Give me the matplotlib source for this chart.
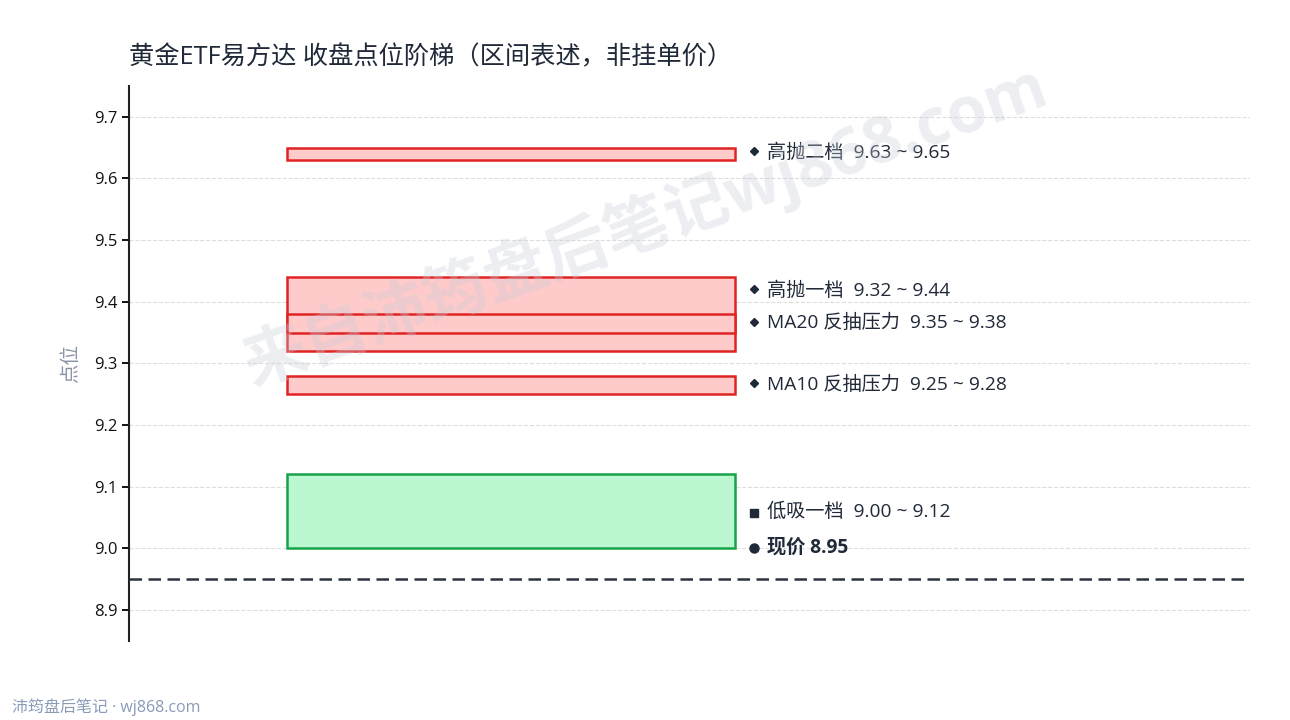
import matplotlib
matplotlib.use("Agg")
import matplotlib.pyplot as plt
from matplotlib.patches import Rectangle

plt.rcParams['font.family'] = ['Open Sans', 'Noto Sans CJK SC', 'DejaVu Sans']

# ---------- data ----------
zone_names = ["高抛二档", "高抛一档", "MA20 反抽压力", "MA10 反抽压力", "低吸一档"]
zone_low = [9.63, 9.32, 9.35, 9.25, 9.00]
zone_high = [9.65, 9.44, 9.38, 9.28, 9.12]
zone_kind = ["sell", "sell", "sell", "sell", "buy"]
current_price = 8.95

# label layout (nudged to avoid overlap)
label_y = [9.642, 9.418, 9.366, 9.266, 9.06]
price_label_y = 9.002

RED_EDGE, RED_FILL = "#e02424", "#fecaca"
GREEN_EDGE, GREEN_FILL = "#16a34a", "#bbf7d0"
TEXT = "#1f2937"

fig = plt.figure(figsize=(12.9, 7.2), dpi=100)
ax = fig.add_axes([0.1, 0.1097, 0.869, 0.771])

x0, x1 = 0.141, 0.541
mx, tx = x1 + 0.0165, x1 + 0.0285
for lo, hi, kind in zip(zone_low, zone_high, zone_kind):
    edge, face = (RED_EDGE, RED_FILL) if kind == "sell" else (GREEN_EDGE, GREEN_FILL)
    ax.add_patch(Rectangle((x0, lo), x1 - x0, hi - lo, facecolor=face,
                           edgecolor=edge, linewidth=1.8, zorder=3))

for name, lo, hi, ly, kind in zip(zone_names, zone_low, zone_high, label_y, zone_kind):
    if kind == "sell":
        ax.plot(mx, ly + 0.002, marker="D", ms=4.5, color=TEXT, zorder=5)
    else:
        ax.plot(mx, ly - 0.002, marker="s", ms=5.5, color=TEXT, zorder=5)
    ax.text(tx, ly, f"{name}  {lo:.2f} ~ {hi:.2f}", fontsize=13.8,
            color=TEXT, va="center", ha="left", zorder=5)

ax.axhline(current_price, color="#2d3340", linewidth=1.8,
           linestyle=(0, (5, 2.6)), zorder=4)
ax.plot(mx, price_label_y - 0.002, marker="o", ms=6.5, color=TEXT, zorder=5)
ax.text(tx, price_label_y, f"现价 {current_price:.2f}", fontsize=13.8,
        fontweight="bold", color=TEXT, va="center", ha="left", zorder=5)

# ---------- axes styling ----------
ax.set_xlim(0, 1)
ax.set_ylim(8.85, 9.75)
ax.set_yticks([8.9, 9.0, 9.1, 9.2, 9.3, 9.4, 9.5, 9.6, 9.7])
ax.set_yticklabels([f"{v:.1f}" for v in ax.get_yticks()])
ax.set_xticks([])
ax.tick_params(axis="y", labelsize=12, length=5, width=1.4, colors="#111111")
for s in ["top", "right", "bottom"]:
    ax.spines[s].set_visible(False)
ax.spines["left"].set_linewidth(1.5)
ax.spines["left"].set_color("#222222")
ax.grid(axis="y", color="#dddddd", linestyle="--", linewidth=0.8, zorder=0)
ax.set_axisbelow(True)
ax.set_ylabel("点位", fontsize=14, color="#8a93a6", labelpad=10)

fig.text(0.1, 0.92, "黄金ETF易方达 收盘点位阶梯（区间表述，非挂单价）",
         fontsize=18.2, color=TEXT, ha="left", va="center")

# watermark
fig.text(0.5, 0.686, "来自沛筠盘后笔记wj868.com", fontsize=46, fontweight="bold",
         color="#c8cdd9", alpha=0.33, rotation=19.5, ha="center", va="center",
         zorder=10)

fig.text(0.009, 0.018, "沛筠盘后笔记 · wj868.com", fontsize=11.5,
         color="#8a9bb8", ha="left", va="center")

fig.savefig("out.png", dpi=100)
